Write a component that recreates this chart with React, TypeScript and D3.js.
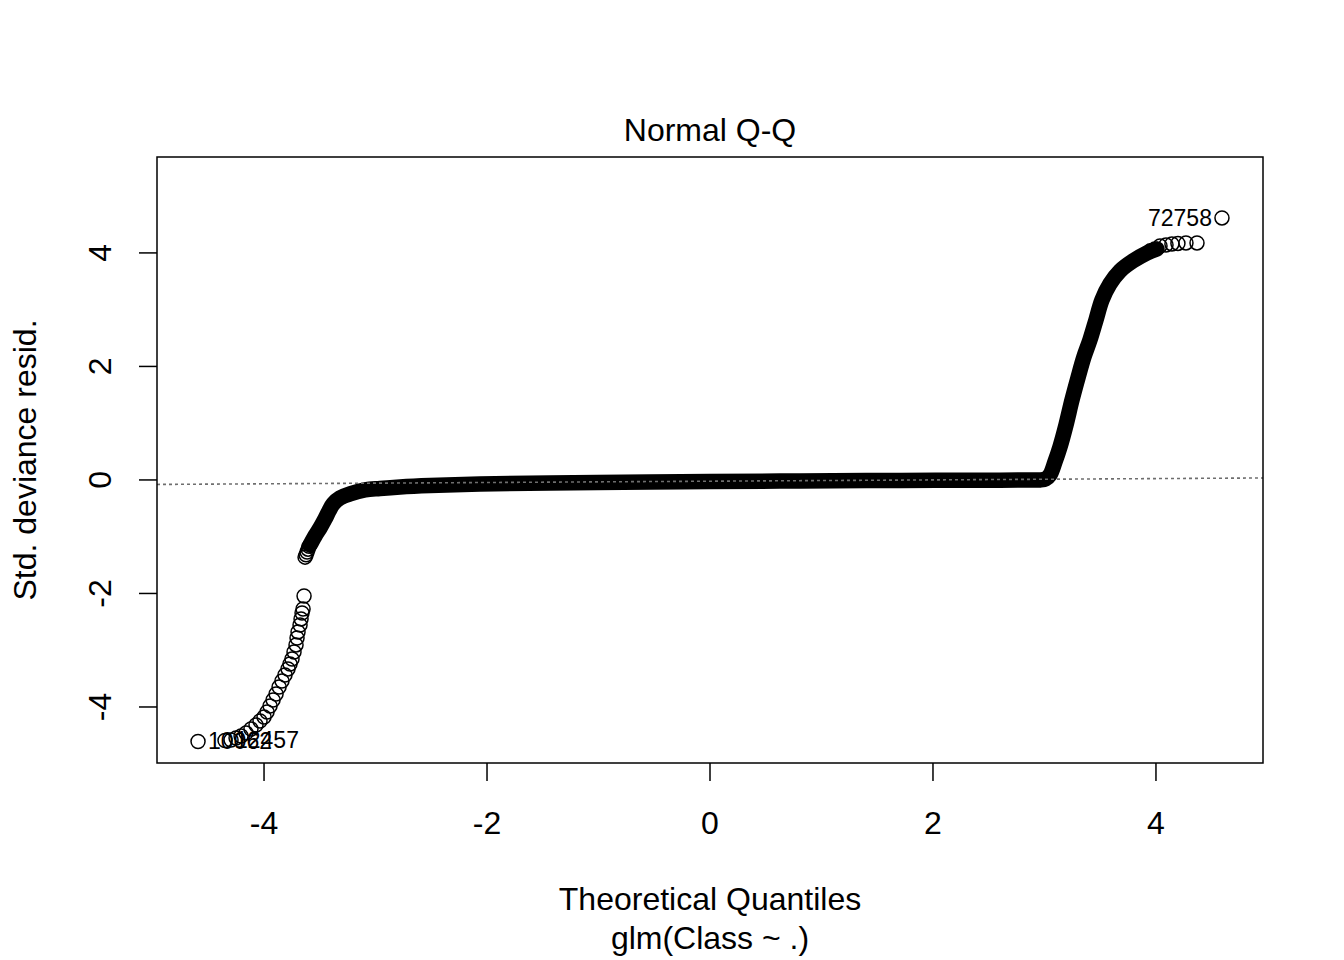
import React from "react";
import * as d3 from "d3";

// ---- data ----
// Theoretical quantile / std. deviance residual of the isolated lower-tail points
const lowerTailX = [-4.592, -4.35, -4.296, -4.251, -4.206, -4.161, -4.117, -4.072, -4.036, -4.0, -3.973, -3.946, -3.919, -3.892, -3.865, -3.839, -3.812, -3.785, -3.767, -3.749, -3.731, -3.713, -3.704, -3.695, -3.677, -3.668, -3.659, -3.65, -3.641];
const lowerTailY = [-4.608, -4.59, -4.581, -4.546, -4.511, -4.458, -4.388, -4.317, -4.247, -4.176, -4.088, -3.982, -3.877, -3.771, -3.648, -3.542, -3.436, -3.33, -3.242, -3.154, -3.031, -2.907, -2.784, -2.678, -2.555, -2.449, -2.344, -2.273, -2.044];

// start of the dense cluster (hollow circles visible at its lower end)
const clusterStartX = [-3.632, -3.623, -3.614, -3.605, -3.596];
const clusterStartY = [-1.36, -1.32, -1.27, -1.22, -1.17];

// dense region (thousands of overlapping points) — traced centre line
const denseX = [-3.587, -3.543, -3.498, -3.453, -3.417, -3.381, -3.318, -3.229, -3.094, -2.96, -2.78, -2.511, -2.063, -1.435, -0.538, 0, 0.807, 1.704, 2.601, 2.85, 2.96, 3.01, 3.049, 3.094, 3.139, 3.193, 3.247, 3.3, 3.354, 3.408, 3.462, 3.516, 3.587, 3.677, 3.794, 3.919, 4.009];
const denseY = [-1.145, -0.987, -0.846, -0.687, -0.546, -0.423, -0.317, -0.247, -0.176, -0.15, -0.123, -0.097, -0.07, -0.053, -0.035, -0.026, -0.018, -0.009, -0.004, -0.002, 0.0, 0.02, 0.09, 0.317, 0.581, 0.969, 1.41, 1.797, 2.167, 2.467, 2.819, 3.172, 3.454, 3.683, 3.859, 4.0, 4.07];

// isolated upper-tail points
const upperTailX = [3.95, 3.99, 4.036, 4.09, 4.143, 4.197, 4.269, 4.368, 4.592];
const upperTailY = [4.04, 4.07, 4.123, 4.141, 4.159, 4.167, 4.176, 4.176, 4.617];

// labelled extreme points
const labelText = ["10062", "12457", "72758"];
const labelX = [-4.592, -4.35, 4.592];
const labelY = [-4.608, -4.59, 4.617];
const labelSide = ["right", "right", "left"];

// reference line (qqline)
const qqIntercept = -0.022;
const qqSlope = 0.0115;

const xTicks = [-4, -2, 0, 2, 4];
const yTicks = [-4, -2, 0, 2, 4];

const xDomain = [-4.96, 4.96];
const yDomain = [-4.987, 5.69];

const title = "Normal Q-Q";
const xLabel = "Theoretical Quantiles";
const subLabel = "glm(Class ~ .)";
const yLabel = "Std. deviance resid.";

export default function App() {
  const W = 1344, H = 960;
  const L = 157, R = 1263, T = 157, B = 763;
  const x = d3.scaleLinear().domain(xDomain).range([L, R]);
  const y = d3.scaleLinear().domain(yDomain).range([B, T]);
  const font = "'Liberation Sans', Arial, sans-serif";
  const fs = 32;
  const r = 7;

  const dense = denseX.map((v, i) => [v, denseY[i]] as [number, number]);
  const bandPath = d3.line<[number, number]>().x(d => x(d[0])).y(d => y(d[1])).curve(d3.curveCatmullRom.alpha(0.5))(dense) || "";

  const circles: [number, number][] = [];
  lowerTailX.forEach((v, i) => circles.push([v, lowerTailY[i]]));
  clusterStartX.forEach((v, i) => circles.push([v, clusterStartY[i]]));
  upperTailX.forEach((v, i) => circles.push([v, upperTailY[i]]));

  return (
    <svg width={W} height={H} style={{ position: "absolute", left: 0, top: 0, background: "#fff" }} fontFamily={font}>
      <defs>
        <clipPath id="plotclip"><rect x={L} y={T} width={R - L} height={B - T} /></clipPath>
      </defs>
      <rect x={0} y={0} width={W} height={H} fill="#fff" />
      <path d={bandPath} fill="none" stroke="#000" strokeWidth={15.5} strokeLinecap="round" strokeLinejoin="round" />
      {circles.map((c, i) => (
        <circle key={i} cx={x(c[0])} cy={y(c[1])} r={r} fill="none" stroke="#000" strokeWidth={1.5} />
      ))}
      <line clipPath="url(#plotclip)" x1={x(xDomain[0])} y1={y(qqIntercept + qqSlope * xDomain[0])} x2={x(xDomain[1])} y2={y(qqIntercept + qqSlope * xDomain[1])} stroke="#6e6e6e" strokeWidth={1.6} strokeDasharray="3,3" />
      {labelText.map((t, i) => (
        <text key={t} x={x(labelX[i]) + (labelSide[i] === "right" ? 10 : -10)} y={y(labelY[i])} dominantBaseline="central" textAnchor={labelSide[i] === "right" ? "start" : "end"} fontSize={23}>{t}</text>
      ))}
      <rect x={L} y={T} width={R - L} height={B - T} fill="none" stroke="#000" strokeWidth={1.5} />
      {xTicks.map(t => (
        <g key={"x" + t}>
          <line x1={x(t)} x2={x(t)} y1={B} y2={B + 18} stroke="#000" strokeWidth={1.5} />
          <text x={x(t)} y={823} textAnchor="middle" dominantBaseline="central" fontSize={fs}>{String(t)}</text>
        </g>
      ))}
      {yTicks.map(t => (
        <g key={"y" + t}>
          <line x1={L} x2={L - 18} y1={y(t)} y2={y(t)} stroke="#000" strokeWidth={1.5} />
          <text transform={`translate(100,${y(t)}) rotate(-90)`} textAnchor="middle" dominantBaseline="central" fontSize={fs}>{String(t)}</text>
        </g>
      ))}
      <text x={710} y={130} textAnchor="middle" dominantBaseline="central" fontSize={fs}>{title}</text>
      <text x={710} y={899} textAnchor="middle" dominantBaseline="central" fontSize={fs}>{xLabel}</text>
      <text x={710} y={938} textAnchor="middle" dominantBaseline="central" fontSize={fs}>{subLabel}</text>
      <text transform={`translate(25,460) rotate(-90)`} textAnchor="middle" dominantBaseline="central" fontSize={fs}>{yLabel}</text>
    </svg>
  );
}
